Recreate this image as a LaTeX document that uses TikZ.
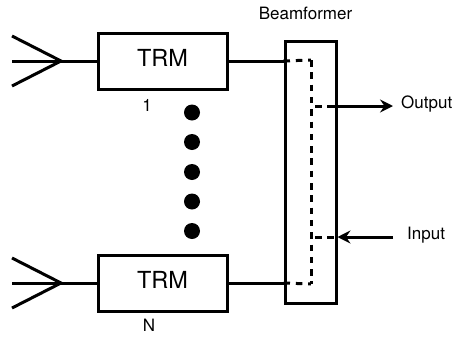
\documentclass[tikz,border=0pt]{standalone}
\usepackage{fontspec}
\setmainfont{TeX Gyre Heros}
\usetikzlibrary{arrows.meta}
\tikzset{
  px/.style={x=1pt,y=-1pt},
  wire/.style={line width=3pt,black},
  ant/.style={line width=3pt,black},
  dashwire/.style={line width=3pt,black,dash pattern=on 6.5pt off 5.8pt},
  blockbox/.style={draw=black,line width=3pt,fill=white,inner sep=0pt,minimum width=129pt,minimum height=56pt,text depth=6pt,font=\fontsize{23.5}{26}\selectfont},
  bfbox/.style={draw=black,line width=3pt,fill=white,inner sep=0pt,minimum width=51pt,minimum height=262pt},
  lbl/.style={inner sep=0pt,font=\fontsize{17}{20}\selectfont},
  dotmark/.style={circle,fill=black,inner sep=0pt,minimum size=16pt},
  arr/.style={-{Stealth[length=13pt,width=13pt,inset=4.5pt]}}
}
\begin{document}
\begin{tikzpicture}[px]
\useasboundingbox (0,0) rectangle (453,338);
\node[bfbox] (bf) at (310.5,172) {};
\node[blockbox] (t1) at (162.5,61) {TRM};
\node[blockbox] (t2) at (162.5,283) {TRM};
% antennas
\coordinate (a1) at (61,61);
\coordinate (a1u) at (12,36);
\coordinate (a1m) at (12,61);
\coordinate (a1d) at (12,86);
\coordinate (a2) at (61,283);
\coordinate (a2u) at (12,258);
\coordinate (a2m) at (12,283);
\coordinate (a2d) at (12,308);
\draw[ant] (a1u) -- (a1) -- (a1d);
\draw[ant] (a1m) -- (a1);
\draw[wire] (a1) -- (t1.west);
\draw[ant] (a2u) -- (a2) -- (a2d);
\draw[ant] (a2m) -- (a2);
\draw[wire] (a2) -- (t2.west);
% beamformer links
\coordinate (b1) at (bf.west |- t1.east);
\coordinate (b2) at (bf.west |- t2.east);
\coordinate (top) at (311,60);
\coordinate (bot) at (311,284);
\coordinate (oj) at (311,106);
\coordinate (ij) at (311,237);
\coordinate (oe) at (bf.east |- oj);
\coordinate (ie) at (bf.east |- ij);
\coordinate (oa) at (393,106);
\coordinate (ia) at (393,237);
\draw[wire] (t1.east) -- (b1);
\draw[wire] (t2.east) -- (b2);
\draw[dashwire] (b1) -- (top);
\draw[dashwire] (b2) -- (bot);
\draw[dashwire] (top) -- (bot);
\draw[dashwire] (oj) ++(4,0) -- (oe);
\draw[dashwire] (ij) ++(4,0) -- (ie);
\draw[wire,arr] (328,106) -- (oa);
\draw[wire,arr] (ia) -- (ie);
% dots
\node[dotmark] (d1) at (192,112.5) {};
\node[dotmark] (d2) at (192,142) {};
\node[dotmark] (d3) at (192,172) {};
\node[dotmark] (d4) at (192,201.5) {};
\node[dotmark] (d5) at (192,231) {};
% labels
\node[lbl] (l1) at (147,105) {1};
\node[lbl] (ln) at (149,325) {N};
\node[lbl] (lb) at (305.5,13) {Beamformer};
\node[lbl,anchor=west] (lo) at (401,104) {Output};
\node[lbl,anchor=west] (li) at (407,235) {Input};
\end{tikzpicture}
\end{document}
